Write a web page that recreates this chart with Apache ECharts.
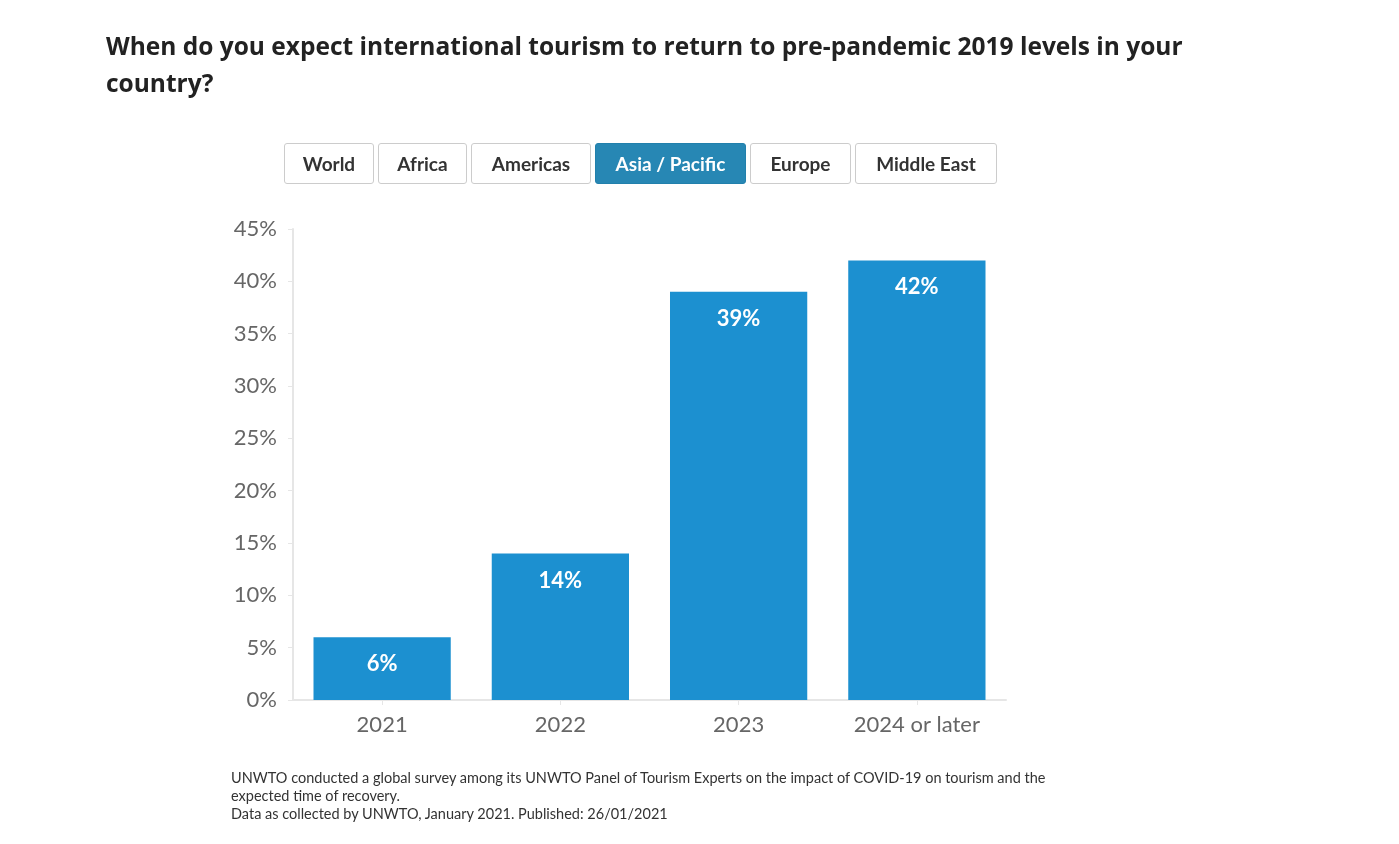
<!DOCTYPE html>
<html>
<head>
<meta charset="utf-8">
<script src="https://cdn.jsdelivr.net/npm/echarts@6/dist/echarts.min.js"></script>
<style>
html,body{margin:0;padding:0;background:#fff;width:1399px;height:844px;overflow:hidden;}
#title{position:absolute;left:106px;top:27px;width:1140px;font-family:"Open Sans",sans-serif;font-weight:700;font-size:24.5px;line-height:37px;color:#222;}
#buttons{position:absolute;left:284px;top:143px;display:flex;gap:4px;}
.btn{box-sizing:border-box;height:41px;border:1px solid #ccc;border-radius:3px;background:#fff;font-family:Lato,sans-serif;font-weight:700;font-size:19px;color:#333;display:flex;align-items:center;justify-content:center;}
.btn.active{background:#2787b4;border-color:#2280ac;color:#fff;}
#chart{position:absolute;left:0;top:0;width:1399px;height:844px;}
#foot{position:absolute;left:231px;top:769px;width:860px;font-family:Lato,sans-serif;font-size:14.5px;line-height:18px;color:#333;}
</style>
</head>
<body>
<div id="chart"></div>
<div id="title">When do you expect international tourism to return to pre-pandemic 2019 levels in your country?</div>
<div id="buttons"></div>
<div id="foot">UNWTO conducted a global survey among its UNWTO Panel of Tourism Experts on the impact of COVID-19 on tourism and the expected time of recovery.<br>Data as collected by UNWTO, January 2021. Published: 26/01/2021</div>
<script>
const tabs = ["World","Africa","Americas","Asia / Pacific","Europe","Middle East"];
const tabWidths = [90,89,120,151,101,142];
const activeTab = "Asia / Pacific";
const categories = ["2021","2022","2023","2024 or later"];
const values = [6,14,39,42];
const yTicks = [0,5,10,15,20,25,30,35,40,45];

const bc = document.getElementById('buttons');
tabs.forEach((t,i)=>{
  const d=document.createElement('div');
  d.className='btn'+(t===activeTab?' active':'');
  d.style.width=tabWidths[i]+'px';
  d.textContent=t;
  bc.appendChild(d);
});

const chart = echarts.init(document.getElementById('chart'));
chart.setOption({
  animation:false,
  grid:{left:293,top:229,width:713,height:471,containLabel:false},
  xAxis:{
    type:'category',data:categories,
    axisLine:{show:true,lineStyle:{color:'#e6e6e6',width:2}},
    axisTick:{show:true,alignWithLabel:true,length:5,lineStyle:{color:'#e6e6e6'}},
    axisLabel:{fontFamily:'Lato',fontSize:22,color:'#666',margin:14}
  },
  yAxis:{
    type:'value',min:yTicks[0],max:yTicks[yTicks.length-1],interval:5,
    axisLine:{show:true,lineStyle:{color:'#e6e6e6',width:2}},
    axisTick:{show:true,length:5,lineStyle:{color:'#e6e6e6'}},
    splitLine:{show:false},
    axisLabel:{fontFamily:'Lato',fontSize:22,color:'#666',margin:16,formatter:v=>v+'%'}
  },
  series:[{
    type:'bar',data:values,barCategoryGap:'23%',
    itemStyle:{color:'#1c90d0'},
    label:{show:true,position:'insideTop',distance:16,color:'#fff',fontFamily:'Lato',fontWeight:'bold',fontSize:22,formatter:p=>p.value+'%'}
  }]
});
</script>
</body>
</html>
